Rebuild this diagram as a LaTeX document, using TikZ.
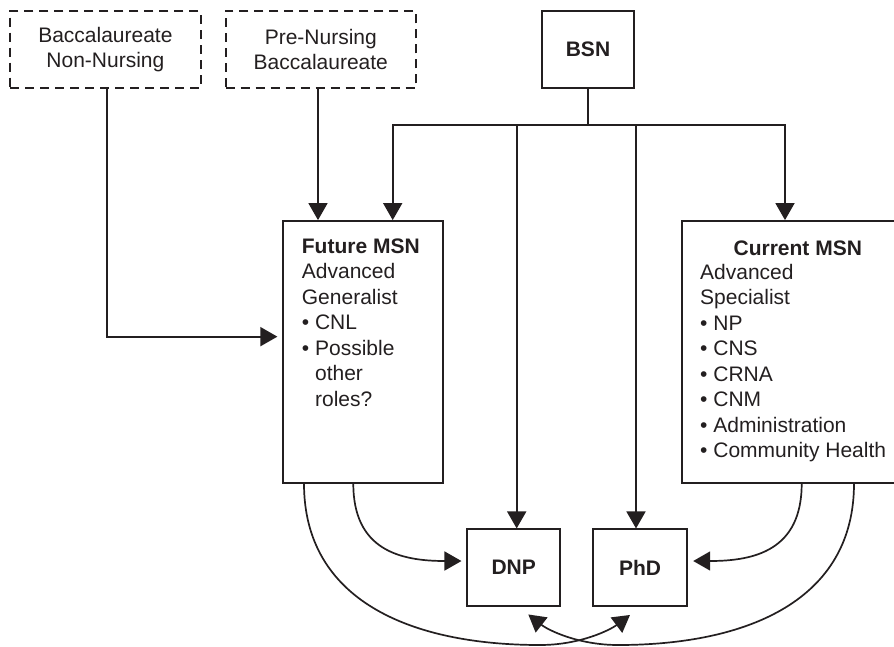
\documentclass[tikz,border=0pt]{standalone}
\usepackage{fontspec}
\setmainfont{Liberation Sans}
\usetikzlibrary{arrows.meta}
\definecolor{ink}{RGB}{35,31,32}
\begin{document}
\begin{tikzpicture}[x=1pt,y=-1pt,
  every node/.style={font=\fontsize{21}{25.5}\selectfont, inner sep=0pt, text=ink},
  box/.style={draw=ink, line width=1.8pt},
  dashbox/.style={box, dash pattern=on 9pt off 6pt},
  line/.style={draw=ink, line width=1.7pt},
  conn/.style={line, -{Triangle[length=17pt,width=19pt]}},
  txt/.style={anchor=north west, align=left}
]
\useasboundingbox (0,0) rectangle (894,646);

% entry programmes
\node[dashbox, minimum width=190.7pt, minimum height=77pt, align=center] (bac1) at (105.4,49.5)
  {Baccalaureate\\Non-Nursing};
\node[dashbox, minimum width=190.3pt, minimum height=77pt, align=center] (bac2) at (320.8,49.5)
  {Pre-Nursing\\Baccalaureate};
\node[box, minimum width=92.6pt, minimum height=77pt, font=\fontsize{21}{25.5}\selectfont\bfseries] (bsn) at (588,49.5) {BSN};

% master's level
\node[box, minimum width=159.4pt, minimum height=261.7pt] (fmsn) at (363,351.85) {};
\node[txt] (ftext) at (301.7,238.3)
  {\textbf{Future MSN}\\Advanced\\Generalist\\• CNL\\• Possible\\\phantom{• }other\\\phantom{• }roles?};

\node[box, minimum width=231pt, minimum height=261.7pt] (cmsn) at (797.8,351.85) {};
\node[font=\fontsize{21}{25.5}\selectfont\bfseries] (ctitle) at (797.8,248) {Current MSN};
\node[txt] (ctext) at (700,263.7)
  {Advanced\\Specialist\\• NP\\• CNS\\• CRNA\\• CNM\\• Administration\\• Community Health};

% doctoral level
\node[box, minimum width=92.7pt, minimum height=76.7pt, font=\fontsize{21}{25.5}\selectfont\bfseries] (dnp) at (513.7,567.7) {DNP};
\node[box, minimum width=93.4pt, minimum height=76.7pt, font=\fontsize{21}{25.5}\selectfont\bfseries] (phd) at (640,567.7) {PhD};

% connectors from the top row
\draw[conn, shorten >=5pt] ([xshift=1.6pt]bac1.south) |- ([yshift=15.2pt]fmsn.west);
\draw[conn] ([xshift=-2.8pt]bac2.south) -- ([xshift=-2.8pt]bac2.south |- fmsn.north);

\coordinate (hub) at (588,125);
\draw[line] (bsn.south) -- (hub);
\draw[conn] (hub) -| ([xshift=29.7pt]fmsn.north);
\draw[conn] (hub) -| ([xshift=-12.8pt]cmsn.north);
\draw[conn] ([xshift=3pt]dnp.north |- hub) -- ([xshift=3pt]dnp.north);
\draw[conn] ([xshift=-4pt]phd.north |- hub) -- ([xshift=-4pt]phd.north);

% MSN to doctorate curves
\draw[conn, shorten >=5pt] ([xshift=-9.7pt]fmsn.south)
  .. controls (353.3,550) and (400,561) .. ([yshift=6.7pt]dnp.west);
\draw[conn, shorten >=5.6pt] ([xshift=3.9pt]cmsn.south)
  .. controls (801.7,550) and (755,561) .. ([yshift=6.7pt]phd.east);

\draw[conn] ([xshift=-59pt]fmsn.south)
  .. controls (304,600) and (410,645) .. (540,645)
  .. controls (580,645) and (610,630) .. ([xshift=-10pt,yshift=-8pt]phd.south);
\draw[conn] ([xshift=56.2pt]cmsn.south)
  .. controls (854,600) and (748,645) .. (618,645)
  .. controls (578,645) and (548,630) .. ([xshift=14.6pt,yshift=-7.5pt]dnp.south);
\end{tikzpicture}
\end{document}
